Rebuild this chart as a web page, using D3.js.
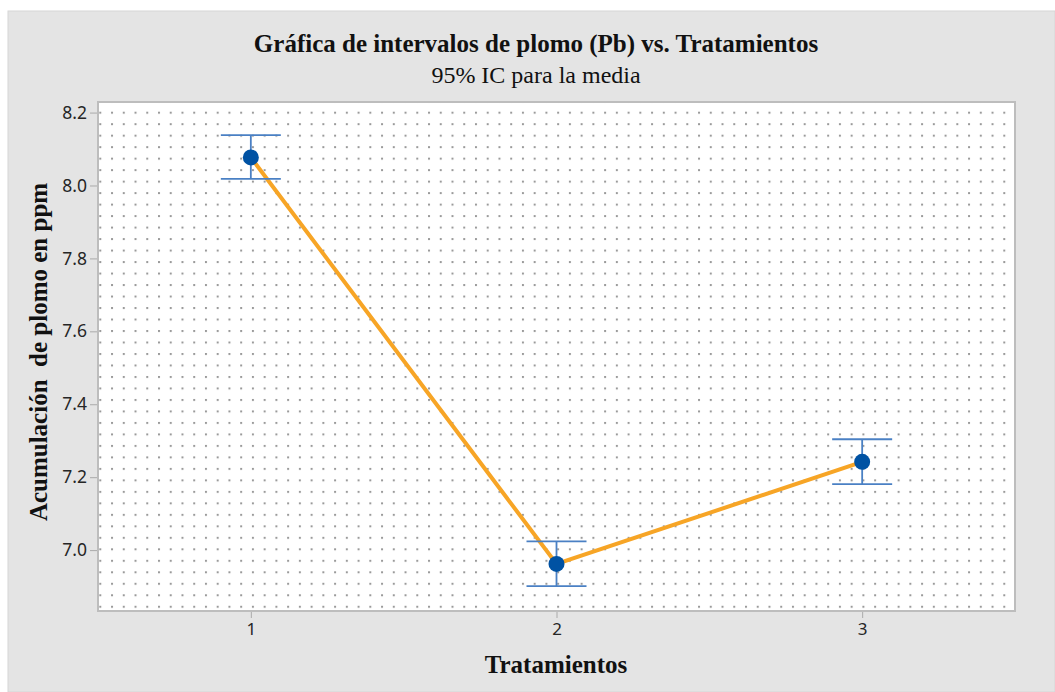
<!DOCTYPE html>
<html>
<head>
<meta charset="utf-8">
<script src="https://cdn.jsdelivr.net/npm/d3@7"></script>
<style>
  body { margin: 0; background: #ffffff; }
  .tick text { font-family: "Noto Sans", sans-serif; fill: #262626; }
  .ttl { font-family: "Liberation Serif", "Times New Roman", serif; fill: #111; }
</style>
</head>
<body>
<div id="chart"></div>
<script>
// Datos del grafico
var tratamientos = [1, 2, 3];
var medias = [8.077, 6.962, 7.242];
var icInferior = [8.018, 6.901, 7.181];
var icSuperior = [8.138, 7.024, 7.304];
var yTicks = [7.0, 7.2, 7.4, 7.6, 7.8, 8.0, 8.2];

var width = 1055;
var height = 692;

// area de la grafica
var pLeft = 98, pRight = 1015, pTop = 102, pBottom = 611;

var svg = d3.select("#chart")
  .append("svg")
  .attr("width", width)
  .attr("height", height);

// fondo gris
svg.append("rect")
  .attr("x", 8).attr("y", 11)
  .attr("width", width - 8).attr("height", height - 11)
  .attr("fill", "#e4e4e4")
  .attr("stroke", "#d6d6d6");

// patron de puntos
var defs = svg.append("defs");
var pat = defs.append("pattern")
  .attr("id", "puntos")
  .attr("patternUnits", "userSpaceOnUse")
  .attr("x", 99.3).attr("y", 111.7)
  .attr("width", 11.74).attr("height", 11.49);
pat.append("rect")
  .attr("x", 0).attr("y", 0)
  .attr("width", 2).attr("height", 2)
  .attr("fill", "#9a9a9a");

svg.append("rect")
  .attr("x", pLeft).attr("y", pTop)
  .attr("width", pRight - pLeft).attr("height", pBottom - pTop)
  .attr("fill", "#ffffff");
svg.append("rect")
  .attr("x", pLeft).attr("y", pTop)
  .attr("width", pRight - pLeft).attr("height", pBottom - pTop)
  .attr("fill", "url(#puntos)")
  .attr("stroke", "#bdbdbd")
  .attr("stroke-width", 2);

// escalas
var xScale = d3.scaleLinear().domain([0.5, 3.5]).range([pLeft, pRight]);
var yScale = d3.scaleLinear().domain([6.833, 8.229]).range([pBottom, pTop]);

var xAxis = d3.axisBottom(xScale).tickValues(tratamientos)
  .tickFormat(d3.format("d")).tickSizeOuter(0).tickSize(6).tickPadding(5);
var yAxis = d3.axisLeft(yScale).tickValues(yTicks)
  .tickFormat(d3.format(".1f")).tickSizeOuter(0).tickSize(7).tickPadding(3);

var gx = svg.append("g")
  .attr("transform", "translate(0," + (pBottom + 1) + ")")
  .call(xAxis);
var gy = svg.append("g")
  .attr("transform", "translate(" + (pLeft - 1) + ",0)")
  .call(yAxis);

[gx, gy].forEach(function(g) {
  g.select(".domain").remove();
  g.selectAll(".tick line").attr("stroke", "#aaaaaa");
});
gx.selectAll(".tick text").attr("font-size", 17);
gy.selectAll(".tick text").attr("font-size", 17.5);

// linea naranja
var linea = d3.line()
  .x(function(d, i) { return xScale(tratamientos[i]); })
  .y(function(d) { return yScale(d); });

svg.append("path")
  .datum(medias)
  .attr("d", linea)
  .attr("fill", "none")
  .attr("stroke", "#f7a526")
  .attr("stroke-width", 4);

// intervalos
var capW = 30;
var ic = svg.append("g").selectAll("g")
  .data(tratamientos)
  .enter()
  .append("g");

ic.append("line")
  .attr("x1", function(d) { return xScale(d); })
  .attr("x2", function(d) { return xScale(d); })
  .attr("y1", function(d, i) { return yScale(icInferior[i]); })
  .attr("y2", function(d, i) { return yScale(icSuperior[i]); })
  .attr("stroke", "#4a80c4")
  .attr("stroke-width", 1.8);
ic.append("line")
  .attr("x1", function(d) { return xScale(d) - capW; })
  .attr("x2", function(d) { return xScale(d) + capW; })
  .attr("y1", function(d, i) { return yScale(icSuperior[i]); })
  .attr("y2", function(d, i) { return yScale(icSuperior[i]); })
  .attr("stroke", "#4a80c4")
  .attr("stroke-width", 1.8);
ic.append("line")
  .attr("x1", function(d) { return xScale(d) - capW; })
  .attr("x2", function(d) { return xScale(d) + capW; })
  .attr("y1", function(d, i) { return yScale(icInferior[i]); })
  .attr("y2", function(d, i) { return yScale(icInferior[i]); })
  .attr("stroke", "#4a80c4")
  .attr("stroke-width", 1.8);

// medias
ic.append("circle")
  .attr("cx", function(d) { return xScale(d); })
  .attr("cy", function(d, i) { return yScale(medias[i]); })
  .attr("r", 8)
  .attr("fill", "#0052a3");

// titulos
svg.append("text")
  .attr("class", "ttl")
  .attr("x", 536).attr("y", 52)
  .attr("text-anchor", "middle")
  .attr("font-size", 25)
  .attr("font-weight", "bold")
  .text("Gráfica de intervalos de plomo (Pb) vs. Tratamientos");
svg.append("text")
  .attr("class", "ttl")
  .attr("x", 536).attr("y", 83)
  .attr("text-anchor", "middle")
  .attr("font-size", 24)
  .text("95% IC para la media");
svg.append("text")
  .attr("class", "ttl")
  .attr("x", 556).attr("y", 673)
  .attr("text-anchor", "middle")
  .attr("font-size", 25)
  .attr("font-weight", "bold")
  .text("Tratamientos");
svg.append("text")
  .attr("class", "ttl")
  .attr("transform", "translate(47,352)rotate(-90)")
  .attr("text-anchor", "middle")
  .attr("font-size", 25)
  .attr("font-weight", "bold")
  .style("white-space", "pre")
  .text("Acumulación  de plomo en ppm");
</script>
</body>
</html>
